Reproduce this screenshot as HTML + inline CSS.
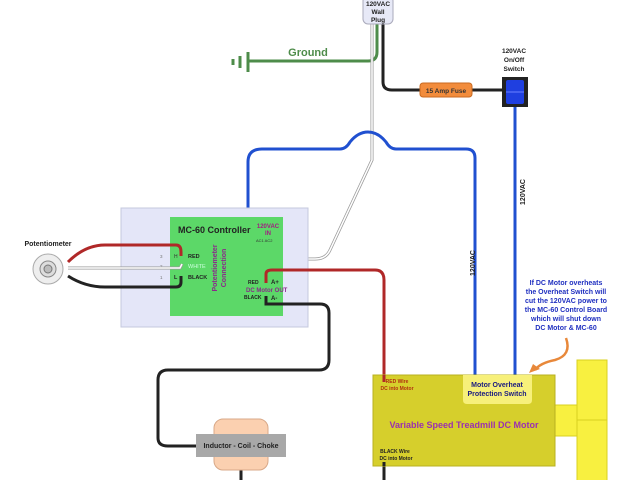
<!DOCTYPE html>
<html><head><meta charset="utf-8"><style>
html,body{margin:0;padding:0;background:#fff;}
svg{display:block;font-family:"Liberation Sans",sans-serif;}
</style></head><body>
<svg width="640" height="480" viewBox="0 0 640 480" xmlns="http://www.w3.org/2000/svg">
<rect width="640" height="480" fill="#fff"/>
<!-- ground -->
<path d="M377 24 L377 52 Q377 61 368 61 L248 61" fill="none" stroke="#4e8c4a" stroke-width="3"/>
<line x1="248" y1="52" x2="248" y2="72" stroke="#4e8c4a" stroke-width="3"/>
<line x1="240" y1="56" x2="240" y2="68" stroke="#4e8c4a" stroke-width="3"/>
<line x1="233" y1="59" x2="233" y2="65" stroke="#4e8c4a" stroke-width="3"/>
<text x="308" y="56" font-size="11" font-weight="bold" fill="#4e8c4a" text-anchor="middle">Ground</text>
<!-- white wire -->
<path d="M372 24 L372 160 L330 250 Q326 259 315 259 L272 259 L270 245" fill="none" stroke="#999" stroke-width="3"/>
<path d="M372 24 L372 160 L330 250 Q326 259 315 259 L272 259 L270 245" fill="none" stroke="#fff" stroke-width="1.5"/>
<!-- black wire to fuse -->
<path d="M383 24 L383 82 Q383 90 392 90 L503 90" fill="none" stroke="#222" stroke-width="3"/>
<rect x="420" y="83" width="52" height="14" rx="3" fill="#f28c3c" stroke="#c96a20"/>
<text x="446" y="93" font-size="6.5" font-weight="bold" fill="#333" text-anchor="middle">15 Amp Fuse</text>
<!-- switch -->
<text x="514" y="53" font-size="6.5" font-weight="bold" fill="#222" text-anchor="middle">120VAC</text>
<text x="514" y="62" font-size="6.5" font-weight="bold" fill="#222" text-anchor="middle">On/Off</text>
<text x="514" y="71" font-size="6.5" font-weight="bold" fill="#222" text-anchor="middle">Switch</text>
<rect x="502" y="77" width="26" height="30" fill="#222"/>
<rect x="506" y="80" width="18" height="24" rx="2" fill="#1f3fe0"/>
<line x1="506" y1="92" x2="524" y2="92" stroke="#6b82ff" stroke-width="1"/>
<!-- blue wires -->
<line x1="515" y1="107" x2="515" y2="376" stroke="#2050d0" stroke-width="3"/>
<path d="M475 376 L475 158 Q475 149 466 149 L396 149 Q390 149 386 142 Q378 132 368 132 Q358 132 350 142 Q346 149 340 149 L262 149 Q248 149 248 162 L248 240 Q248 247 257 247" fill="none" stroke="#2050d0" stroke-width="3"/>
<text transform="translate(525,192) rotate(-90)" font-size="7" font-weight="bold" fill="#222" text-anchor="middle">120VAC</text>
<text transform="translate(475,263) rotate(-90)" font-size="7" font-weight="bold" fill="#222" text-anchor="middle">120VAC</text>
<!-- wall plug -->
<rect x="363" y="-4" width="30" height="28" rx="5" fill="#e7e9f7" stroke="#aab"/>
<text x="378" y="6" font-size="6.5" font-weight="bold" fill="#222" text-anchor="middle">120VAC</text>
<text x="378" y="14" font-size="6.5" font-weight="bold" fill="#222" text-anchor="middle">Wall</text>
<text x="378" y="22" font-size="6.5" font-weight="bold" fill="#222" text-anchor="middle">Plug</text>
<!-- MC-60 panel -->
<rect x="121" y="208" width="187" height="119" fill="#e4e6f8" stroke="#c5c8de"/>
<rect x="170" y="217" width="113" height="99" fill="#5cd868"/>
<text x="178" y="233" font-size="9" font-weight="bold" fill="#222">MC-60 Controller</text>
<text x="268" y="228" font-size="6" font-weight="bold" fill="#a02080" text-anchor="middle">120VAC</text>
<text x="268" y="235" font-size="6" font-weight="bold" fill="#a02080" text-anchor="middle">IN</text>
<text x="256" y="242" font-size="4" fill="#333">AC1 AC2</text>
<text transform="translate(217,268) rotate(-90)" font-size="7" font-weight="bold" fill="#8a2a8a" text-anchor="middle">Potentiometer</text>
<text transform="translate(226,268) rotate(-90)" font-size="7" font-weight="bold" fill="#8a2a8a" text-anchor="middle">Connection</text>
<text x="188" y="258" font-size="5.5" font-weight="bold" fill="#222">RED</text>
<text x="188" y="268" font-size="5.5" fill="#cfd">WHITE</text>
<text x="188" y="279" font-size="5.5" font-weight="bold" fill="#222">BLACK</text>
<text x="174" y="258" font-size="5" fill="#333">H</text>
<text x="174" y="279" font-size="5.5" font-weight="bold" fill="#222">L</text>
<text x="160" y="258" font-size="4.5" fill="#777">3</text>
<text x="160" y="268" font-size="4.5" fill="#777">2</text>
<text x="160" y="279" font-size="4.5" fill="#777">1</text>
<text x="248" y="284" font-size="5" font-weight="bold" fill="#222">RED</text>
<text x="271" y="284" font-size="6" font-weight="bold" fill="#222">A+</text>
<text x="246" y="292" font-size="6" font-weight="bold" fill="#8a2a8a">DC Motor OUT</text>
<text x="244" y="299" font-size="5" font-weight="bold" fill="#222">BLACK</text>
<text x="271" y="300" font-size="6" font-weight="bold" fill="#222">A-</text>
<!-- pot wires -->
<path d="M68 262 Q85 245 105 245 L176 245 Q181 245 181 252 L181 256" fill="none" stroke="#b02828" stroke-width="3"/>
<path d="M68 268 L180 268 L182 264" fill="none" stroke="#999" stroke-width="3"/>
<path d="M68 268 L180 268 L182 264" fill="none" stroke="#fff" stroke-width="1.5"/>
<path d="M68 276 Q85 287 105 287 L176 287 Q181 287 181 282 L181 276" fill="none" stroke="#222" stroke-width="3"/>
<!-- pot -->
<text x="48" y="246" font-size="7" font-weight="bold" fill="#222" text-anchor="middle">Potentiometer</text>
<circle cx="48" cy="269" r="15" fill="#eee" stroke="#aaa"/>
<circle cx="48" cy="269" r="8" fill="#ddd" stroke="#888"/>
<circle cx="48" cy="269" r="4" fill="#bbb" stroke="#777"/>
<!-- motor wires -->
<path d="M266 283 L266 274 Q266 270 272 270 L375 270 Q384 270 384 280 L384 380" fill="none" stroke="#b02828" stroke-width="3"/>
<path d="M266 296 L266 304 L320 304 Q329 304 329 313 L329 360 Q329 370 319 370 L168 370 Q158 370 158 380 L158 438 Q158 446 168 446 L200 446" fill="none" stroke="#222" stroke-width="3"/>
<line x1="241" y1="465" x2="241" y2="480" stroke="#222" stroke-width="3"/>
<line x1="384" y1="460" x2="384" y2="480" stroke="#222" stroke-width="3"/>
<!-- inductor -->
<rect x="214" y="419" width="54" height="51" rx="9" fill="#fbd0b0" stroke="#d8a888"/>
<rect x="196" y="434" width="90" height="23" fill="#a8a8a8"/>
<text x="241" y="448" font-size="7" font-weight="bold" fill="#222" text-anchor="middle">Inductor - Coil - Choke</text>
<!-- motor -->
<rect x="577" y="360" width="30" height="125" fill="#f8f040" stroke="#d8d020"/>
<line x1="577" y1="420" x2="607" y2="420" stroke="#d8d020"/>
<rect x="555" y="405" width="22" height="31" fill="#f8f040" stroke="#d8d020"/>
<rect x="373" y="375" width="182" height="91" fill="#d6cf2c" stroke="#b8b020"/>
<line x1="384" y1="375" x2="384" y2="382" stroke="#b02828" stroke-width="3"/>
<line x1="384" y1="462" x2="384" y2="466" stroke="#222" stroke-width="3"/>
<path d="M463 375 L532 375 L532 400 Q532 404 528 404 L467 404 Q463 404 463 400 Z" fill="#f7f07a"/>
<text x="497" y="387" font-size="7" font-weight="bold" fill="#1a1a80" text-anchor="middle">Motor Overheat</text>
<text x="497" y="396" font-size="7" font-weight="bold" fill="#1a1a80" text-anchor="middle">Protection Switch</text>
<text x="397" y="383" font-size="5" font-weight="bold" fill="#b03010" text-anchor="middle">RED Wire</text>
<text x="397" y="390" font-size="5" font-weight="bold" fill="#b03010" text-anchor="middle">DC into Motor</text>
<text x="395" y="453" font-size="5" font-weight="bold" fill="#222" text-anchor="middle">BLACK Wire</text>
<text x="396" y="460" font-size="5" font-weight="bold" fill="#222" text-anchor="middle">DC into Motor</text>
<text x="464" y="428" font-size="9" font-weight="bold" fill="#9a30b0" text-anchor="middle">Variable Speed Treadmill DC Motor</text>
<!-- note -->
<g font-size="7" font-weight="bold" fill="#2030c0" text-anchor="middle">
<text x="566" y="285">If DC Motor overheats</text>
<text x="566" y="294">the Overheat Switch will</text>
<text x="566" y="303">cut the 120VAC power to</text>
<text x="566" y="312">the MC-60 Control Board</text>
<text x="566" y="321">which will shut down</text>
<text x="566" y="330">DC Motor &amp; MC-60</text>
</g>
<path d="M566 338 Q572 355 555 360 Q540 363 535 370" fill="none" stroke="#e8883a" stroke-width="2.5"/>
<path d="M529 373 L533 364 L540 369 Z" fill="#e8883a"/>
</svg>
</body></html>
